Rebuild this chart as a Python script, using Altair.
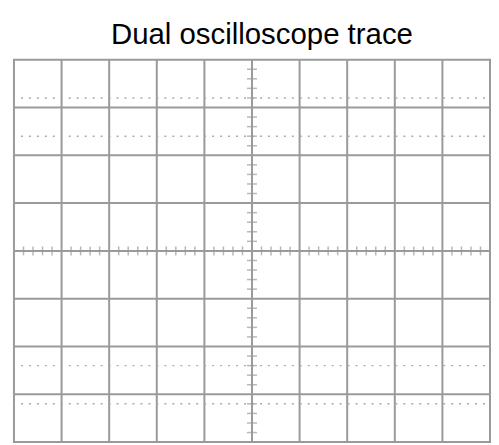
import altair as alt
import pandas as pd

# Graticule layout (divisions)
x_divs = [-4, -3, -2, -1, 0, 1, 2, 3, 4]
y_divs = [-3, -2, -1, 0, 1, 2, 3]
x_starts = [-5, -4, -3, -2, -1, 0, 1, 2, 3, 4]
y_starts = [-4, -3, -2, -1, 0, 1, 2, 3]
minor_steps = [0.2, 0.4, 0.6, 0.8]
dotted_levels = [3.2, 2.4, -2.4, -3.2]

GRID = "#9a9a9a"

x_minor = [s + m for s in x_starts for m in minor_steps]
y_minor = [s + m for s in y_starts for m in minor_steps]

xs = alt.Scale(domain=[-5, 5], nice=False, zero=False)
ys = alt.Scale(domain=[-4, 4], nice=False, zero=False)

vgrid = alt.Chart(pd.DataFrame({"x": x_divs})).mark_rule(color=GRID, strokeWidth=2).encode(
    x=alt.X("x:Q", scale=xs, axis=None)
)
hgrid = alt.Chart(pd.DataFrame({"y": y_divs})).mark_rule(color=GRID, strokeWidth=2).encode(
    y=alt.Y("y:Q", scale=ys, axis=None)
)
dots = alt.Chart(pd.DataFrame({"y": dotted_levels})).mark_rule(
    color="#aaaaaa", strokeWidth=1.5, strokeDash=[2, 6], strokeDashOffset=3
).encode(y=alt.Y("y:Q", scale=ys, axis=None))

xticks = alt.Chart(pd.DataFrame({"x": x_minor, "y": [0] * len(x_minor)})).mark_tick(
    color=GRID, orient="vertical", size=9, thickness=1.5
).encode(x=alt.X("x:Q", scale=xs, axis=None), y=alt.Y("y:Q", scale=ys, axis=None))

yticks = alt.Chart(pd.DataFrame({"y": y_minor, "x": [0] * len(y_minor)})).mark_tick(
    color=GRID, orient="horizontal", size=10, thickness=1.5
).encode(y=alt.Y("y:Q", scale=ys, axis=None), x=alt.X("x:Q", scale=xs, axis=None))

chart = alt.layer(vgrid, hgrid, dots, xticks, yticks).properties(
    width=478,
    height=384,
    title=alt.TitleParams(
        "Dual oscilloscope trace",
        font="Liberation Sans",
        fontSize=29.5,
        fontWeight="normal",
        color="black",
        anchor="middle",
        dx=10,
        offset=8,
    ),
    padding={"left": 5, "top": 11, "right": 0, "bottom": 1},
).configure_view(stroke=GRID, strokeWidth=2)

chart.save("out.html", embed_options={"renderer": "svg", "actions": False})
